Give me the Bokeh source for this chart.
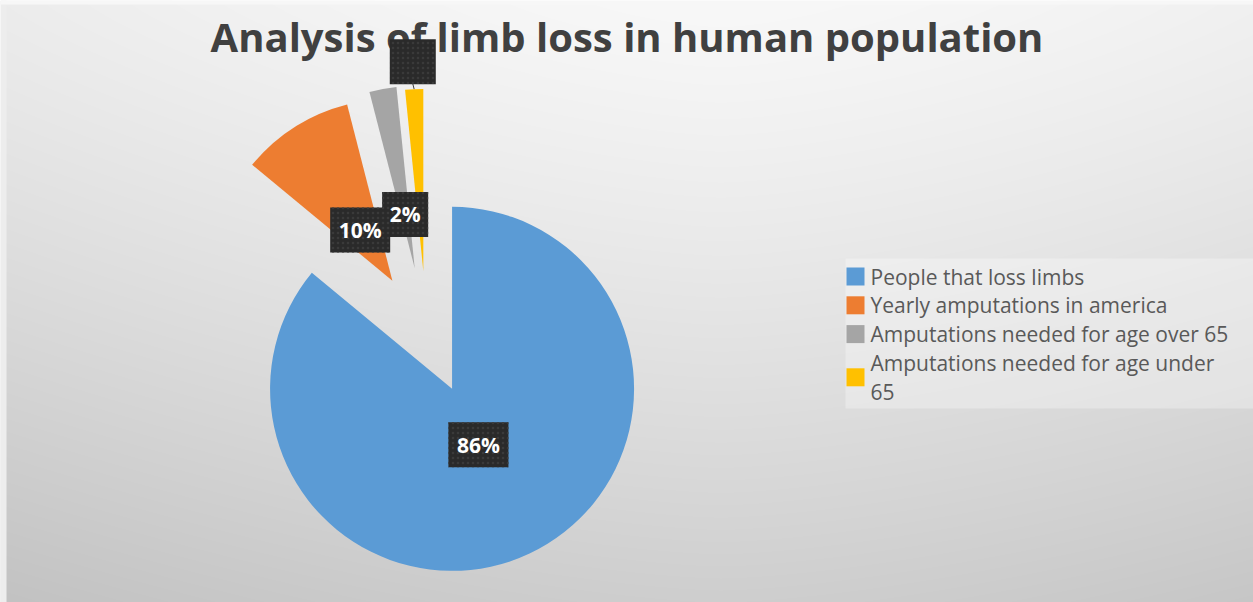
import math
import textwrap

import numpy as np
from bokeh.core.properties import value
from bokeh.embed import file_html
from bokeh.models import ColumnDataSource, Range1d
from bokeh.plotting import figure
from bokeh.resources import INLINE

# ---- data -------------------------------------------------------------
title = "Analysis of limb loss in human population"
categories = [
    "People that loss limbs",
    "Yearly amputations in america",
    "Amputations needed for age over 65",
    "Amputations needed for age under 65",
]
values = [86, 10, 2.4, 1.6]

# ---- styling ----------------------------------------------------------
colors = ["#5b9bd5", "#ed7d31", "#a5a5a5", "#ffc000"]
explode = [0.33, 0.35, 0.37, 0.35]        # fraction of radius each slice is pulled out
label_dist = [0.34, 0.33, 0.30, 1.15]     # label distance from slice tip, fraction of radius
label_text_shown = [True, True, True, False]

W, H = 1253, 602
FONT = "Open Sans"
CX, CY, R = 426, H - 334, 182

p = figure(width=W, height=H, x_range=Range1d(0, W), y_range=Range1d(0, H),
           output_backend="svg", toolbar_location=None, min_border=0)
p.axis.visible = False
p.grid.visible = False
p.outline_line_color = None
p.border_fill_color = "#ffffff"

# soft grey backdrop, lightest near the top centre
ys, xs = np.mgrid[0:H, 0:W].astype(float)
gray = 248 - 42 * (ys / H) ** 1.2 - 12 * (np.abs(xs - 720) / 720) ** 1.5
img = np.empty((H, W), dtype=np.uint32)
view = img.view(dtype=np.uint8).reshape((H, W, 4))
view[..., 0] = gray
view[..., 1] = gray
view[..., 2] = gray
view[..., 3] = 255
p.image_rgba(image=[np.flipud(img)], x=0, y=0, dw=W, dh=H)
p.quad(left=[0, 0], right=[6, W], bottom=[0, H - 4], top=[H, H],
       fill_color=["#ededed", "#f7f7f7"], line_color=None)

# title
p.text(x=[W / 2], y=[H - 36], text=[title], text_align="center",
       text_baseline="middle", text_font=value(FONT), text_font_size="40px",
       text_font_style="bold", text_color="#404040")

# ---- exploded pie -------------------------------------------------------
total = sum(values)
cum = np.cumsum([0] + values) / total * 2 * math.pi
start_cw, end_cw = cum[:-1], cum[1:]
mid = (start_cw + end_cw) / 2
vx = [CX + e * R * math.sin(m) for e, m in zip(explode, mid)]
vy = [CY + e * R * math.cos(m) for e, m in zip(explode, mid)]

pie = ColumnDataSource(dict(
    x=vx, y=vy,
    start=[math.pi / 2 - e for e in end_cw],
    end=[math.pi / 2 - s for s in start_cw],
    color=colors,
))
p.wedge(x="x", y="y", radius=R, start_angle="start", end_angle="end",
        fill_color="color", line_color=None, source=pie)

# data labels
labels = [f"{round(v / total * 100)}%" for v in values]
lx = [x + d * R * math.sin(m) for x, d, m in zip(vx, label_dist, mid)]
ly = [y + d * R * math.cos(m) for y, d, m in zip(vy, label_dist, mid)]
lw = [14 * len(t) + 18 for t in labels]

for x, y, d, m, ly_, lx_ in zip(vx, vy, label_dist, mid, ly, lx):
    if d > 1:
        p.segment(x0=[lx_], y0=[ly_ - 22], x1=[x + R * math.sin(m)],
                  y1=[y + R * math.cos(m)], line_color="#404040", line_width=1)

p.rect(x=lx, y=ly, width=lw, height=45, fill_color="#2a2a2a", line_color=None,
       hatch_pattern="dot", hatch_color="#3a3a3a", hatch_scale=5, hatch_weight=1.2)
shown = [i for i, s in enumerate(label_text_shown) if s]
p.text(x=[lx[i] for i in shown], y=[ly[i] for i in shown],
       text=[labels[i] for i in shown], text_align="center", text_baseline="middle",
       text_font=value(FONT), text_font_size="21px", text_font_style="bold",
       text_color="#ffffff")

# ---- legend -------------------------------------------------------------
LEG_X, LEG_TOP, PITCH = 855, H - 276, 28.8
p.quad(left=[845], right=[W], bottom=[H - 408], top=[H - 258],
       fill_color="#ffffff", fill_alpha=0.3, line_color=None)
line_idx = 0
tx, ty, tt, mx, my = [], [], [], [], []
for cat in categories:
    lines = textwrap.wrap(cat, width=34)
    first = line_idx
    for ln in lines:
        tx.append(LEG_X + 15)
        ty.append(LEG_TOP - line_idx * PITCH)
        tt.append(ln)
        line_idx += 1
    mx.append(LEG_X)
    my.append(LEG_TOP - (first + (len(lines) - 1) / 2) * PITCH)
p.rect(x=mx, y=my, width=18, height=18, fill_color=colors, line_color=None)
p.text(x=tx, y=ty, text=tt, text_align="left", text_baseline="middle",
       text_font=value(FONT), text_font_size="21px", text_color="#595959")

open("out.html", "w").write(file_html(p, INLINE))
